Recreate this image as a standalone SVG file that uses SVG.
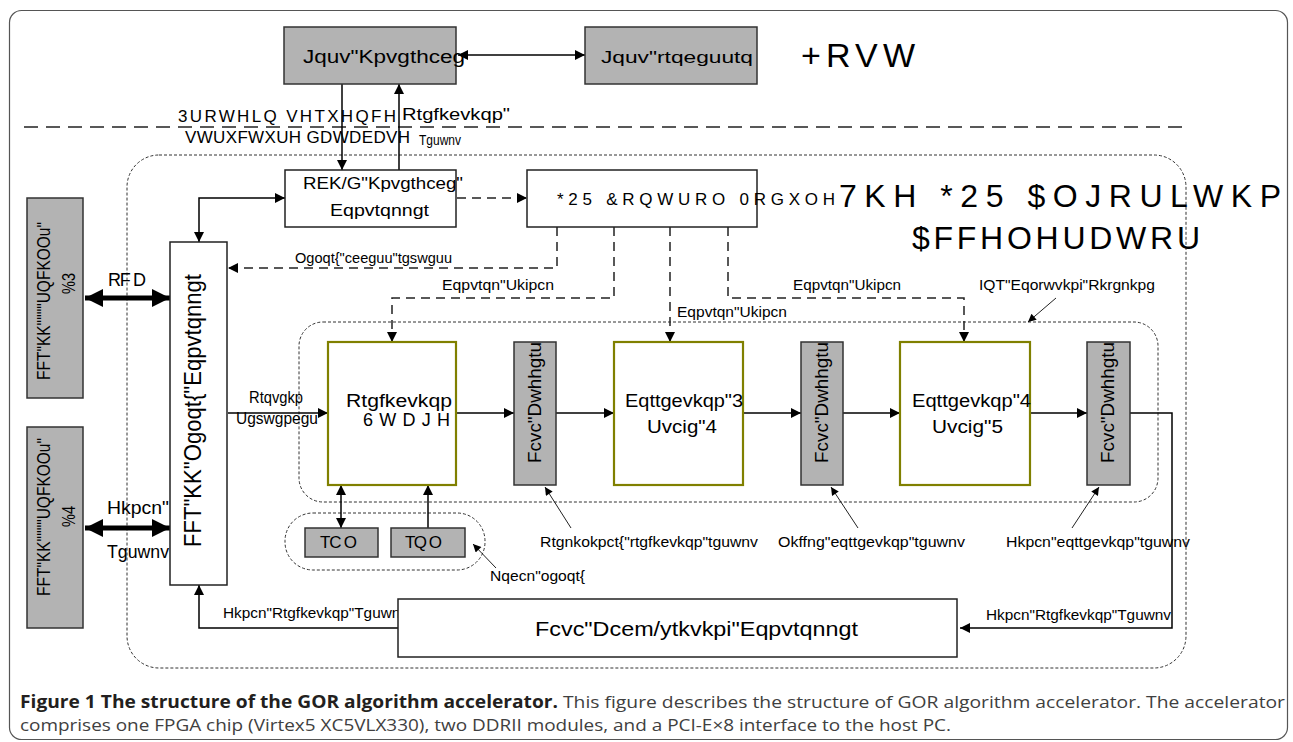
<svg xmlns="http://www.w3.org/2000/svg" width="1293" height="742" viewBox="0 0 1293 742">
<style>
.t{font-family:"Liberation Sans",Arial,sans-serif;fill:#000}
.sy{font-family:"Liberation Sans",Arial,sans-serif;fill:#000}
.gray{fill:#b3b3b3;stroke:#333;stroke-width:1.5}
.wb{fill:#fff;stroke:#222;stroke-width:1.5}
.stg{fill:#fff;stroke:#808000;stroke-width:2.2}
.ln{fill:none;stroke:#000;stroke-width:1.5}
.dl{fill:none;stroke:#222;stroke-width:1.5;stroke-dasharray:9,6}
.thk{fill:none;stroke:#000;stroke-width:5}
.fine{fill:none;stroke:#222;stroke-width:1}
.cap{font-family:"Open Sans","Liberation Sans",Arial,sans-serif;font-size:17px}
</style>
<defs>
<marker id="ah" viewBox="0 0 10 10" refX="10" refY="5" markerWidth="12" markerHeight="10" markerUnits="userSpaceOnUse" orient="auto-start-reverse"><path d="M0,0 L10,5 L0,10 z" fill="#000" stroke="none"/></marker>
<marker id="ahs" viewBox="0 0 10 10" refX="10" refY="5" markerWidth="10" markerHeight="8" markerUnits="userSpaceOnUse" orient="auto-start-reverse"><path d="M0,0 L10,5 L0,10 z" fill="#000" stroke="none"/></marker>
<marker id="ahb" viewBox="0 0 10 10" refX="10" refY="5" markerWidth="20" markerHeight="18" markerUnits="userSpaceOnUse" orient="auto-start-reverse"><path d="M0,0 L10,5 L0,10 z" fill="#000" stroke="none"/></marker>
</defs>
<rect x="9.5" y="10.5" width="1278" height="729" rx="12" fill="#fff" stroke="#555" stroke-width="1.2"/>

<g id="regions">
<line x1="24" y1="127" x2="1188" y2="127" stroke="#222" stroke-width="1.5" stroke-dasharray="14,8"/>
<rect x="127" y="155" width="1059" height="513" rx="32" fill="none" stroke="#333" stroke-width="1" stroke-dasharray="3,2"/>
<rect x="299" y="322" width="859" height="180" rx="24" fill="none" stroke="#333" stroke-width="1" stroke-dasharray="3,2"/>
<rect x="285" y="513" width="200" height="57" rx="28" fill="none" stroke="#333" stroke-width="1" stroke-dasharray="3,2"/>
</g>

<g id="connectors">
<line class="ln" x1="458" y1="55" x2="585" y2="55" marker-start="url(#ah)" marker-end="url(#ah)"/>
<line class="ln" x1="342" y1="84" x2="342" y2="170" marker-end="url(#ah)"/>
<line class="ln" x1="399" y1="170" x2="399" y2="84" marker-end="url(#ah)"/>
<polyline class="ln" points="199,242 199,198 285,198" marker-start="url(#ah)" marker-end="url(#ah)"/>
<line class="dl" x1="457" y1="198" x2="527" y2="198" marker-end="url(#ah)"/>
<polyline class="dl" points="557,227 557,268 228,268" marker-end="url(#ah)"/>
<polyline class="dl" points="614,227 614,298 392,298 392,342" marker-end="url(#ah)"/>
<polyline class="dl" points="670,227 670,342" marker-end="url(#ah)"/>
<polyline class="dl" points="728,227 728,298 964,298 964,342" marker-end="url(#ah)"/>
<line class="thk" x1="85" y1="298" x2="170" y2="298" marker-start="url(#ahb)" marker-end="url(#ahb)"/>
<line class="thk" x1="85" y1="528" x2="170" y2="528" marker-start="url(#ahb)" marker-end="url(#ahb)"/>
<line class="ln" x1="228" y1="413" x2="328" y2="413" marker-end="url(#ah)"/>
<line class="ln" x1="456" y1="413" x2="514" y2="413" marker-end="url(#ah)"/>
<line class="ln" x1="556" y1="413" x2="614" y2="413" marker-end="url(#ah)"/>
<line class="ln" x1="743" y1="413" x2="801" y2="413" marker-end="url(#ah)"/>
<line class="ln" x1="843" y1="413" x2="900" y2="413" marker-end="url(#ah)"/>
<line class="ln" x1="1030" y1="413" x2="1087" y2="413" marker-end="url(#ah)"/>
<polyline class="ln" points="1130,413 1172,413 1172,628 960,628" marker-end="url(#ah)"/>
<polyline class="ln" points="398,628 199,628 199,585" marker-end="url(#ah)"/>
<line class="ln" x1="341" y1="485" x2="341" y2="528" marker-start="url(#ah)" marker-end="url(#ah)"/>
<line class="ln" x1="428" y1="528" x2="428" y2="485" marker-end="url(#ah)"/>
<line class="fine" x1="496" y1="568" x2="473" y2="544" marker-end="url(#ahs)"/>
<line class="fine" x1="571" y1="528" x2="545" y2="487" marker-end="url(#ahs)"/>
<line class="fine" x1="858" y1="528" x2="831" y2="487" marker-end="url(#ahs)"/>
<line class="fine" x1="1072" y1="528" x2="1099" y2="487" marker-end="url(#ahs)"/>
<line class="fine" x1="1056" y1="298" x2="1028" y2="322" marker-end="url(#ahs)"/>
</g>

<g id="labels">
<text class="sy" x="178" y="122" font-size="17" textLength="218" lengthAdjust="spacing">3URWHLQ VHTXHQFH</text>
<text class="sy" x="185" y="143" font-size="17" textLength="225" lengthAdjust="spacing">VWUXFWXUH GDWDEDVH</text>
<text class="t" x="402" y="120" font-size="16" textLength="108" lengthAdjust="spacingAndGlyphs">Rtgfkevkqp"</text>
<text class="t" x="419" y="145" font-size="15" textLength="42" lengthAdjust="spacingAndGlyphs">Tguwnv</text>
<text class="t" x="295" y="263" font-size="15" textLength="157" lengthAdjust="spacingAndGlyphs">Ogoqt{"ceeguu"tgswguu</text>
<text class="t" x="442" y="290" font-size="15" textLength="112" lengthAdjust="spacingAndGlyphs">Eqpvtqn"Ukipcn</text>
<text class="t" x="677" y="317" font-size="15" textLength="110" lengthAdjust="spacingAndGlyphs">Eqpvtqn"Ukipcn</text>
<text class="t" x="793" y="290" font-size="15" textLength="108" lengthAdjust="spacingAndGlyphs">Eqpvtqn"Ukipcn</text>
<text class="t" x="979" y="290" font-size="15" textLength="176" lengthAdjust="spacingAndGlyphs">IQT"Eqorwvkpi"Rkrgnkpg</text>
<text class="t" x="108" y="286" font-size="18" textLength="38" lengthAdjust="spacing">RF D</text>
<text class="t" x="107" y="514" font-size="18" textLength="62" lengthAdjust="spacingAndGlyphs">Hkpcn"</text>
<text class="t" x="107" y="558" font-size="18" textLength="62" lengthAdjust="spacingAndGlyphs">Tguwnv</text>
<text class="t" x="249" y="403" font-size="17" textLength="54" lengthAdjust="spacingAndGlyphs">Rtqvgkp</text>
<text class="t" x="236" y="424" font-size="17" textLength="82" lengthAdjust="spacingAndGlyphs">Ugswgpegu</text>
<text class="t" x="540" y="547" font-size="15" textLength="218" lengthAdjust="spacingAndGlyphs">Rtgnkokpct{"rtgfkevkqp"tguwnv</text>
<text class="t" x="778" y="547" font-size="15" textLength="187" lengthAdjust="spacingAndGlyphs">Okffng"eqttgevkqp"tguwnv</text>
<text class="t" x="1006" y="547" font-size="15" textLength="184" lengthAdjust="spacingAndGlyphs">Hkpcn"eqttgevkqp"tguwnv</text>
<text class="t" x="490" y="581" font-size="15" textLength="95" lengthAdjust="spacingAndGlyphs">Nqecn"ogoqt{</text>
<text class="t" x="223" y="618" font-size="15" textLength="185" lengthAdjust="spacingAndGlyphs">Hkpcn"Rtgfkevkqp"Tguwnv</text>
<text class="t" x="986" y="620" font-size="15" textLength="185" lengthAdjust="spacingAndGlyphs">Hkpcn"Rtgfkevkqp"Tguwnv</text>
<text class="sy" x="801" y="67" font-size="34" textLength="114" lengthAdjust="spacing">+RVW</text>
<text class="sy" x="839" y="207" font-size="32" textLength="442" lengthAdjust="spacing">7KH *25 $OJRULWKP</text>
<text class="sy" x="912" y="249" font-size="32" textLength="288" lengthAdjust="spacing">$FFHOHUDWRU</text>
</g>

<g id="host-interface">
<rect class="gray" x="284" y="27" width="172" height="57"/>
<text class="t" x="303" y="63" font-size="18" textLength="162" lengthAdjust="spacingAndGlyphs">Jquv"Kpvgthceg</text>
</g>
<g id="host-processor">
<rect class="gray" x="585" y="27" width="172" height="57"/>
<text class="t" x="601" y="63" font-size="17" textLength="152" lengthAdjust="spacingAndGlyphs">Jquv"rtqeguutq</text>
</g>
<g id="pcie-controller">
<rect class="wb" x="285" y="170" width="171" height="57"/>
<text class="t" x="303" y="189" font-size="17" textLength="160" lengthAdjust="spacingAndGlyphs">REK/G"Kpvgthceg"</text>
<text class="t" x="330" y="216" font-size="17" textLength="99" lengthAdjust="spacingAndGlyphs">Eqpvtqnngt</text>
</g>
<g id="gor-control">
<rect class="wb" x="527" y="170" width="230" height="57"/>
<text class="sy" x="557" y="205" font-size="17" textLength="278" lengthAdjust="spacing">*25 &amp;RQWURO 0RGXOH</text>
</g>
<g id="ddr1">
<rect class="gray" x="27" y="198" width="56" height="200"/>
<text class="t" transform="translate(50,380) rotate(-90)" font-size="19" textLength="158" lengthAdjust="spacingAndGlyphs">FFT"KK""""UQFKOOu"</text>
<text class="t" transform="translate(75,294) rotate(-90)" font-size="19" textLength="21" lengthAdjust="spacingAndGlyphs">%3</text>
</g>
<g id="ddr2">
<rect class="gray" x="27" y="427" width="56" height="201"/>
<text class="t" transform="translate(50,596) rotate(-90)" font-size="19" textLength="158" lengthAdjust="spacingAndGlyphs">FFT"KK""""UQFKOOu"</text>
<text class="t" transform="translate(75,527) rotate(-90)" font-size="19" textLength="21" lengthAdjust="spacingAndGlyphs">%4</text>
</g>
<g id="ddr-controller">
<rect class="wb" x="170" y="242" width="57" height="343"/>
<text class="t" transform="translate(201,547) rotate(-90)" font-size="24" textLength="273" lengthAdjust="spacingAndGlyphs">FFT"KK"Ogoqt{"Eqpvtqnngt</text>
</g>
<g id="prediction-stage">
<rect class="stg" x="328" y="342" width="128" height="143"/>
<text class="t" x="346" y="407" font-size="18" textLength="106" lengthAdjust="spacingAndGlyphs">Rtgfkevkqp</text>
<text class="sy" x="363" y="426" font-size="18" textLength="87" lengthAdjust="spacing">6WDJH</text>
</g>
<g id="data-buffer-1">
<rect class="gray" x="514" y="342" width="42" height="143"/>
<text class="t" transform="translate(541,463) rotate(-90)" font-size="18" textLength="121" lengthAdjust="spacingAndGlyphs">Fcvc"Dwhhgtu</text>
</g>
<g id="correcting-stage-1">
<rect class="stg" x="614" y="342" width="129" height="143"/>
<text class="t" x="625" y="407" font-size="18" textLength="118" lengthAdjust="spacingAndGlyphs">Eqttgevkqp"3</text>
<text class="t" x="647" y="433" font-size="18" textLength="70" lengthAdjust="spacingAndGlyphs">Uvcig"4</text>
</g>
<g id="data-buffer-2">
<rect class="gray" x="801" y="342" width="42" height="143"/>
<text class="t" transform="translate(828,463) rotate(-90)" font-size="18" textLength="121" lengthAdjust="spacingAndGlyphs">Fcvc"Dwhhgtu</text>
</g>
<g id="correcting-stage-2">
<rect class="stg" x="900" y="342" width="130" height="143"/>
<text class="t" x="912" y="407" font-size="18" textLength="119" lengthAdjust="spacingAndGlyphs">Eqttgevkqp"4</text>
<text class="t" x="932" y="433" font-size="18" textLength="71" lengthAdjust="spacingAndGlyphs">Uvcig"5</text>
</g>
<g id="data-buffer-3">
<rect class="gray" x="1087" y="342" width="43" height="143"/>
<text class="t" transform="translate(1114,463) rotate(-90)" font-size="18" textLength="121" lengthAdjust="spacingAndGlyphs">Fcvc"Dwhhgtu</text>
</g>
<g id="ram">
<rect class="gray" x="305" y="528" width="73" height="29"/>
<text class="t" x="320" y="548" font-size="17" textLength="37" lengthAdjust="spacing">TC O</text>
</g>
<g id="rom">
<rect class="gray" x="391" y="528" width="74" height="29"/>
<text class="t" x="405" y="548" font-size="17" textLength="37" lengthAdjust="spacing">TQ O</text>
</g>
<g id="data-bank-controller">
<rect class="wb" x="398" y="599" width="559" height="58"/>
<text class="t" x="535" y="636" font-size="21" textLength="323" lengthAdjust="spacingAndGlyphs">Fcvc"Dcem/ytkvkpi"Eqpvtqnngt</text>
</g>

<g id="caption">
<text class="cap" x="20" y="708" font-weight="bold" fill="#231f20" textLength="538" lengthAdjust="spacingAndGlyphs">Figure 1 The structure of the GOR algorithm accelerator.</text>
<text class="cap" x="563" y="708" fill="#404040" textLength="722" lengthAdjust="spacingAndGlyphs">This figure describes the structure of GOR algorithm accelerator. The accelerator</text>
<text class="cap" x="20" y="731" fill="#404040" textLength="931" lengthAdjust="spacingAndGlyphs">comprises one FPGA chip (Virtex5 XC5VLX330), two DDRII modules, and a PCI-E×8 interface to the host PC.</text>
</g>
</svg>
